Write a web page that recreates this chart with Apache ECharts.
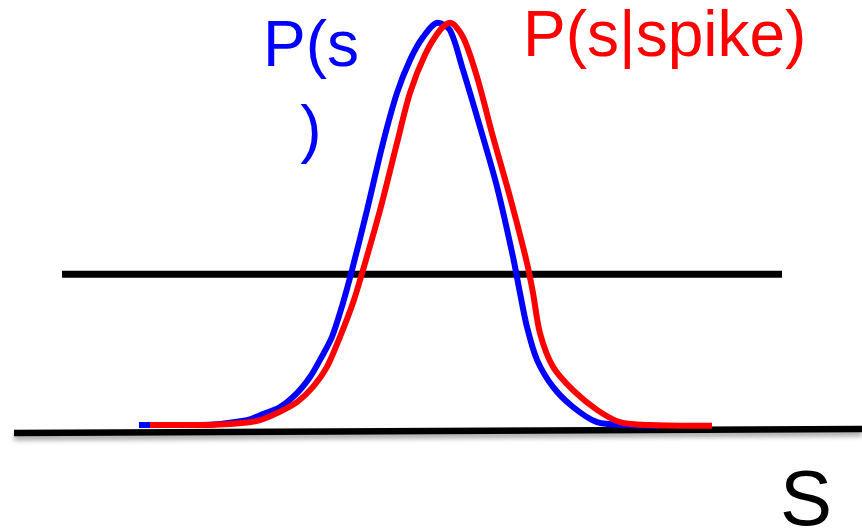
<!DOCTYPE html>
<html lang="en">
<head>
    <meta charset="utf-8" />
    <title>P(s) vs P(s|spike)</title>
    <script src="https://cdn.jsdelivr.net/npm/echarts@6/dist/echarts.min.js"></script>
    <style>
        html, body { margin: 0; padding: 0; background: #fff; }
        #main { width: 862px; height: 529px; }
    </style>
</head>
<body>
    <div id="main"></div>
    <script type="text/javascript">
        // stimulus value s and normalised density
        var priorS = [-2.98, -2.37, -1.90, -1.77, -1.57, -1.40, -1.27, -1.17, -1.05, -0.94, -0.85, -0.70, -0.54, -0.40, -0.27, -0.14, 0.01, 0.13, 0.26, 0.43, 0.60, 0.76, 0.83, 0.90, 1.00, 1.16, 1.36, 1.60, 1.90, 2.23];
        var priorP = [0.017, 0.017, 0.029, 0.041, 0.061, 0.095, 0.134, 0.176, 0.232, 0.315, 0.395, 0.541, 0.705, 0.827, 0.907, 0.963, 0.998, 0.980, 0.883, 0.744, 0.598, 0.427, 0.339, 0.256, 0.176, 0.110, 0.061, 0.024, 0.017, 0.015];

        var spikeS = [-2.87, -2.37, -1.95, -1.77, -1.60, -1.40, -1.24, -1.10, -0.97, -0.84, -0.74, -0.57, -0.40, -0.27, -0.12, 0.03, 0.13, 0.26, 0.40, 0.56, 0.73, 0.90, 0.96, 1.03, 1.16, 1.36, 1.60, 1.83, 2.13, 2.75];
        var spikeP = [0.017, 0.017, 0.022, 0.029, 0.046, 0.073, 0.110, 0.159, 0.232, 0.315, 0.395, 0.541, 0.705, 0.827, 0.920, 0.980, 0.998, 0.963, 0.866, 0.720, 0.573, 0.412, 0.339, 0.241, 0.159, 0.102, 0.054, 0.024, 0.017, 0.015];

        // flat ratio line and the s axis
        var ratioS = [-3.75, 3.45];
        var ratioP = [0.385, 0.385];
        var axisS = [-4.23, 4.25];
        var axisP = [-0.0024, 0.0073];

        function pairs(xs, ys) {
            return xs.map(function (x, i) { return [x, ys[i]]; });
        }

        var myChart = echarts.init(document.getElementById('main'));
        var option = {
            backgroundColor: '#ffffff',
            animation: false,
            grid: { left: 0, right: 0, top: 22, bottom: 76.5 },
            xAxis: { type: 'value', min: -4.37, max: 4.25, show: false },
            yAxis: { type: 'value', min: -0.05, max: 1, show: false },
            series: [
                {
                    name: 's axis',
                    type: 'line',
                    data: pairs(axisS, axisP),
                    symbol: 'none',
                    clip: false,
                    lineStyle: {
                        color: '#000', width: 6.5,
                        shadowColor: 'rgba(0,0,0,0.35)', shadowBlur: 5, shadowOffsetY: 4
                    },
                    z: 1
                },
                {
                    name: 'ratio',
                    type: 'line',
                    data: pairs(ratioS, ratioP),
                    symbol: 'none',
                    clip: false,
                    lineStyle: { color: '#000', width: 7 },
                    z: 2
                },
                {
                    name: 'P(s)',
                    type: 'line',
                    data: pairs(priorS, priorP),
                    symbol: 'none',
                    smooth: 0.3,
                    clip: false,
                    lineStyle: { color: '#0000ff', width: 6 },
                    z: 3
                },
                {
                    name: 'P(s|spike)',
                    type: 'line',
                    data: pairs(spikeS, spikeP),
                    symbol: 'none',
                    smooth: 0.3,
                    clip: false,
                    lineStyle: { color: '#ff0000', width: 6 },
                    z: 4
                }
            ],
            graphic: [
                {
                    type: 'text', x: 311, y: 6,
                    style: {
                        text: 'P(s\n)', fill: '#0000ff',
                        font: '64px "Liberation Sans", Arial, sans-serif',
                        lineHeight: 85, align: 'center', verticalAlign: 'top'
                    }
                },
                {
                    type: 'text', x: 523, y: 6,
                    style: {
                        text: 'P(s|spike)', fill: '#ff0000',
                        font: '64px "Liberation Sans", Arial, sans-serif',
                        align: 'left', verticalAlign: 'top'
                    }
                },
                {
                    type: 'text', x: 806, y: 464,
                    style: {
                        text: 'S', fill: '#000',
                        font: '78px "Liberation Sans", Arial, sans-serif',
                        align: 'center', verticalAlign: 'top'
                    }
                }
            ]
        };
        myChart.setOption(option);
    </script>
</body>
</html>
